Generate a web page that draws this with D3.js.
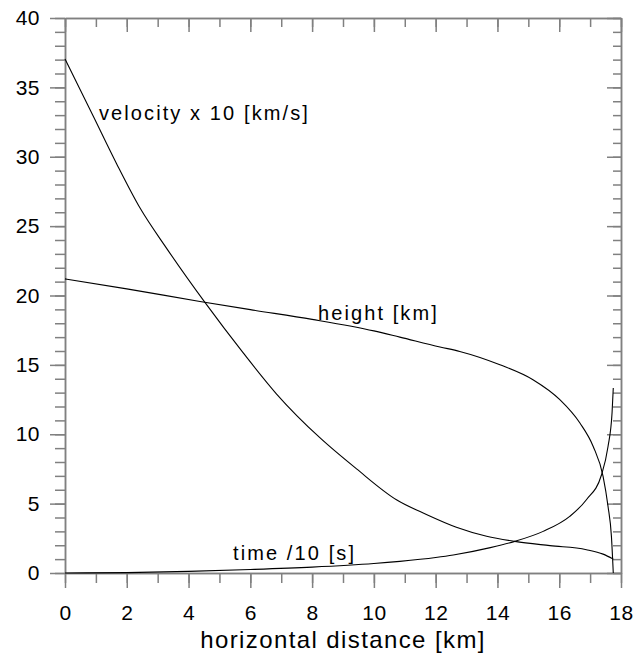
<!DOCTYPE html>
<html>
<head>
<meta charset="utf-8">
<script src="https://cdn.jsdelivr.net/npm/d3@7"></script>
<style>
  body { margin: 0; background: #fff; }
  svg { display: block; font-family: "Liberation Sans", Arial, sans-serif; }
  .axis path, .axis line { stroke: #808080; stroke-width: 1.5; }
  .axis text { font-size: 21px; fill: #000; letter-spacing: 0.5px; }
  .curve { fill: none; stroke: #000; stroke-width: 1.1; }
  .curve-label { font-size: 20px; letter-spacing: 2.1px; fill: #000; }
</style>
</head>
<body>
<svg id="chart" width="642" height="658"></svg>
<script>
// curves: [horizontal distance km, value]
const velocity = [
  [0, 37.05], [0.92, 32.9], [1.67, 29.5], [2.43, 26.3], [3.29, 23.4],
  [4.53, 19.5], [5.77, 15.86], [6.85, 12.9], [8.25, 9.75], [9.44, 7.5],
  [10.73, 5.28], [11.7, 4.22], [12.67, 3.3], [13.65, 2.65], [14.56, 2.28],
  [15.7, 1.97], [16.88, 1.68], [17.42, 1.36], [17.75, 1.0]
];
const height = [
  [0, 21.2], [2, 20.48], [4.37, 19.57], [6, 18.98], [8, 18.28], [10, 17.45],
  [10.84, 17.0], [12.14, 16.29], [12.78, 15.97], [14.08, 15.01], [15.15, 13.93],
  [16.02, 12.49], [16.67, 10.81], [17.1, 9.12], [17.42, 6.96], [17.58, 4.8],
  [17.69, 2.64], [17.75, 0]
];
const time = [
  [0, 0], [2, 0.03], [4, 0.12], [6, 0.25], [8, 0.42], [10, 0.68], [10.84, 0.84],
  [12, 1.12], [12.57, 1.3], [13.77, 1.83], [14.56, 2.28], [15.48, 3.0],
  [16.34, 4.08], [16.88, 5.28], [17.37, 7.08], [17.58, 9.12], [17.71, 11.53],
  [17.75, 13.33]
];
const labels = [
  { text: "velocity x 10 [km/s]", x: 1.1, y: 32.67 },
  { text: "height [km]", x: 8.19, y: 18.26 },
  { text: "time /10 [s]", x: 5.44, y: 0.96 }
];
const xMajor = d3.range(0, 19, 2);
const xMinor = d3.range(0, 19, 1);
const yMajor = d3.range(0, 41, 5);
const yMinor = d3.range(0, 41, 1);

const margin = { top: 18, right: 21, bottom: 85, left: 65 };
const svg = d3.select("#chart");
const W = +svg.attr("width"), H = +svg.attr("height");
const w = W - margin.left - margin.right;
const h = H - margin.top - margin.bottom;
const g = svg.append("g").attr("transform", `translate(${margin.left},${margin.top})`);

const x = d3.scaleLinear().domain([0, 18]).range([0, w]);
const y = d3.scaleLinear().domain([0, 40]).range([h, 0]);

// bottom axis, ticks outward
g.append("g").attr("class", "axis").attr("transform", `translate(0,${h})`)
  .call(d3.axisBottom(x).tickValues(xMinor).tickSize(10).tickSizeOuter(0).tickFormat(""));
g.append("g").attr("class", "axis").attr("transform", `translate(0,${h})`)
  .call(d3.axisBottom(x).tickValues(xMajor).tickSize(15).tickSizeOuter(0).tickPadding(17));

// left axis, ticks outward
g.append("g").attr("class", "axis")
  .call(d3.axisLeft(y).tickValues(yMinor).tickSize(10).tickSizeOuter(0).tickFormat(""));
g.append("g").attr("class", "axis")
  .call(d3.axisLeft(y).tickValues(yMajor).tickSize(15).tickSizeOuter(0).tickPadding(10));

// top and right mirrors, ticks inward
g.append("g").attr("class", "axis")
  .call(d3.axisBottom(x).tickValues(xMinor).tickSize(9).tickSizeOuter(0).tickFormat(""));
g.append("g").attr("class", "axis")
  .call(d3.axisBottom(x).tickValues(xMajor).tickSize(14).tickSizeOuter(0).tickFormat(""));
g.append("g").attr("class", "axis").attr("transform", `translate(${w},0)`)
  .call(d3.axisLeft(y).tickValues(yMinor).tickSize(8).tickSizeOuter(0).tickFormat(""));
g.append("g").attr("class", "axis").attr("transform", `translate(${w},0)`)
  .call(d3.axisLeft(y).tickValues(yMajor).tickSize(14).tickSizeOuter(0).tickFormat(""));

const line = d3.line().x(d => x(d[0])).y(d => y(d[1])).curve(d3.curveMonotoneX);
[velocity, height, time].forEach(s => {
  g.append("path").attr("class", "curve").attr("d", line(s));
});

g.selectAll(".curve-label").data(labels).enter().append("text")
  .attr("class", "curve-label")
  .attr("x", d => x(d.x)).attr("y", d => y(d.y))
  .text(d => d.text);

g.append("text")
  .attr("x", w / 2).attr("y", h + 75)
  .attr("text-anchor", "middle")
  .style("font-size", "24px").style("letter-spacing", "1.4px")
  .text("horizontal distance [km]");
</script>
</body>
</html>
